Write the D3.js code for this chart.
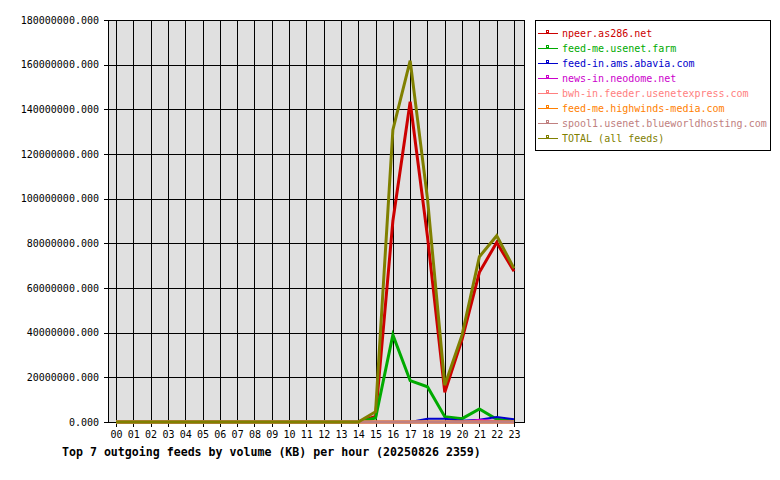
<!DOCTYPE html>
<html>
<head>
<meta charset="utf-8">
<style>
  body { margin: 0; background: #fff; }
  svg text { font-family: "DejaVu Sans Mono", monospace; }
</style>
</head>
<body>
<svg id="chart" width="780" height="480"></svg>
<script src="https://d3js.org/d3.v7.min.js"></script>
<script>
// hours on the x axis
var hours = ["00","01","02","03","04","05","06","07","08","09","10","11",
             "12","13","14","15","16","17","18","19","20","21","22","23"];

// values in KB (millions)
var npeer    = [0,0,0,0,0,0,0,0,0,0,0,0,0,0,0, 2.5, 90, 143.4, 83, 13.3, 37, 67, 80.4, 67.5];
var feedMe   = [0,0,0,0,0,0,0,0,0,0,0,0,0,0,0, 1.8, 39, 18.5, 15.8, 2.4, 1.5, 5.8, 1.2, 0.3];
var abavia   = [0,0,0,0,0,0,0,0,0,0,0,0,0,0,0, 0, 0, 0, 1.4, 1.4, 0.6, 1.0, 2.2, 1.2];
var neodome  = [0,0,0,0,0,0,0,0,0,0,0,0,0,0,0, 0, 0, 0, 0, 0, 0, 1.0, 0.4, 0];
var bwh      = [0,0,0,0,0,0,0,0,0,0,0,0,0,0,0, 0, 0, 0, 0, 0, 0, 0, 0, 0];
var highw    = [0,0,0,0,0,0,0,0,0,0,0,0,0,0,0, 0, 0, 0, 0, 0, 0, 0, 0, 0];
var spool1   = [0,0,0,0,0,0,0,0,0,0,0,0,0,0,0, 0, 0, 0, 0, 0, 0, 0, 0, 0];
var total    = [0,0,0,0,0,0,0,0,0,0,0,0,0,0,0, 4.6, 130.8, 161.8, 100, 16.5, 39, 74, 83.4, 68.8];

var yTicks = [0, 20e6, 40e6, 60e6, 80e6, 100e6, 120e6, 140e6, 160e6, 180e6];

var series = [
  { name: "npeer.as286.net",                    color: "#cc0000", w: 3, v: npeer },
  { name: "feed-me.usenet.farm",                color: "#00aa00", w: 3, v: feedMe },
  { name: "feed-in.ams.abavia.com",             color: "#0000cc", w: 2, v: abavia },
  { name: "news-in.neodome.net",                color: "#cc00cc", w: 2, v: neodome },
  { name: "bwh-in.feeder.usenetexpress.com",    color: "#ff8080", w: 3, v: bwh },
  { name: "feed-me.highwinds-media.com",        color: "#ff8000", w: 3, v: highw },
  { name: "spool1.usenet.blueworldhosting.com", color: "#c08080", w: 3, v: spool1 },
  { name: "TOTAL (all feeds)",                  color: "#808000", w: 3, v: total }
];

var svg = d3.select("#chart");

var x = d3.scaleLinear().domain([0, 23]).range([116, 514]);
var y = d3.scaleLinear().domain([0, 180e6]).range([422, 20]);

// plot background
svg.append("rect")
  .attr("x", 108).attr("y", 20)
  .attr("width", 416).attr("height", 402)
  .attr("fill", "#e0e0e0");

// grid
function px(v) { return Math.round(v) + 0.5; }
var grid = svg.append("g").attr("stroke", "#000").attr("stroke-width", 1);
grid.selectAll(".hg").data(yTicks).enter().append("line")
  .attr("x1", 104).attr("x2", 524)
  .attr("y1", function(d) { return px(y(d)); })
  .attr("y2", function(d) { return px(y(d)); });
grid.selectAll(".vg").data(hours).enter().append("line")
  .attr("x1", function(d, i) { return px(x(i)); })
  .attr("x2", function(d, i) { return px(x(i)); })
  .attr("y1", 20).attr("y2", 427);
grid.append("line").attr("x1", 108.5).attr("x2", 108.5).attr("y1", 20).attr("y2", 423);
grid.append("line").attr("x1", 524.5).attr("x2", 524.5).attr("y1", 20).attr("y2", 423);

// axes (labels only, grid draws the lines)
var yAxis = d3.axisLeft(y).tickValues(yTicks).tickSize(0).tickPadding(9)
  .tickFormat(d3.format(".3f"));
var gy = svg.append("g").attr("transform", "translate(108,0)").call(yAxis);
gy.select(".domain").remove();
gy.selectAll("text").attr("font-size", 10).attr("fill", "#000")
  .attr("font-family", "DejaVu Sans Mono, monospace");

var xAxis = d3.axisBottom(x).tickValues(d3.range(24)).tickSize(0).tickPadding(9)
  .tickFormat(function(i) { return hours[i]; });
var gx = svg.append("g").attr("transform", "translate(0,422)").call(xAxis);
gx.select(".domain").remove();
gx.selectAll("text").attr("font-size", 10).attr("fill", "#000")
  .attr("font-family", "DejaVu Sans Mono, monospace");

// lines
var line = d3.line()
  .x(function(d, i) { return x(i); })
  .y(function(d) { return y(d * 1e6); });

svg.append("g").selectAll("path").data(series).enter().append("path")
  .attr("d", function(s) { return line(s.v); })
  .attr("fill", "none")
  .attr("stroke", function(s) { return s.color; })
  .attr("stroke-width", function(s) { return s.w; })
  .attr("stroke-linejoin", "miter");

// title
svg.append("text")
  .attr("x", 62).attr("y", 456)
  .attr("font-size", 11.6).attr("font-weight", "bold")
  .text("Top 7 outgoing feeds by volume (KB) per hour (20250826 2359)");

// legend
var lg = svg.append("g");
lg.append("rect")
  .attr("x", 535.5).attr("y", 20.5).attr("width", 235).attr("height", 130)
  .attr("fill", "#fff").attr("stroke", "#000").attr("stroke-width", 1);

var item = lg.selectAll(".item").data(series).enter().append("g")
  .attr("transform", function(d, i) { return "translate(0," + (33.5 + i * 15) + ")"; });
item.append("line")
  .attr("x1", 538).attr("x2", 558).attr("y1", 0).attr("y2", 0)
  .attr("stroke", function(s) { return s.color; }).attr("stroke-width", 1);
item.append("rect")
  .attr("x", 546.5).attr("y", -3).attr("width", 2).attr("height", 2)
  .attr("fill", "none")
  .attr("stroke", function(s) { return s.color; }).attr("stroke-width", 1);
item.append("text")
  .attr("x", 562).attr("y", 0).attr("dy", "0.35em")
  .attr("font-size", 10)
  .attr("fill", function(s) { return s.color; })
  .text(function(s) { return s.name; });
</script>
</body>
</html>
